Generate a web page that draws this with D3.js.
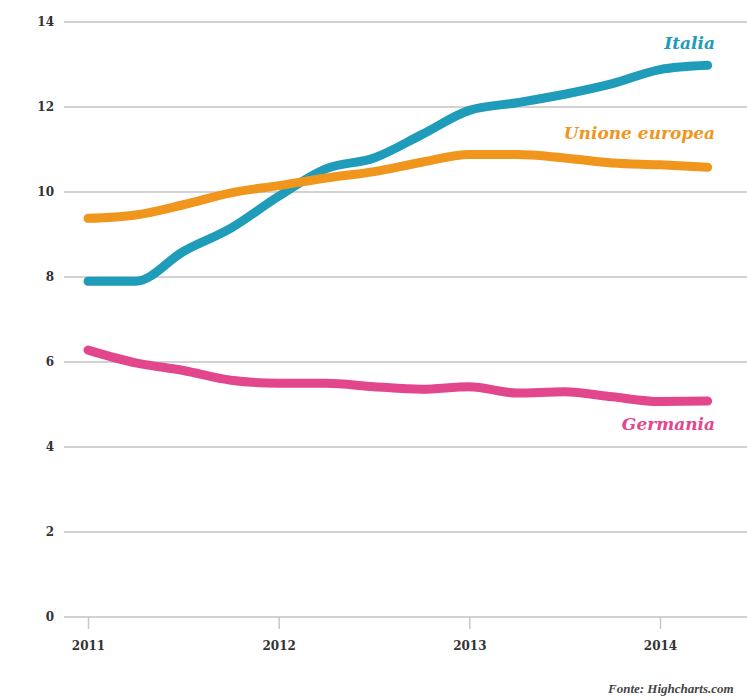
<!DOCTYPE html>
<html>
<head>
<meta charset="utf-8">
<script src="https://cdn.jsdelivr.net/npm/d3@7"></script>
<style>
  body { margin: 0; background: #fff; }
  svg { display: block; }
  .axis text { font-family: "DejaVu Serif", "Liberation Serif", serif; font-weight: bold; font-size: 12px; fill: #333; }
</style>
</head>
<body>
<div id="chart"></div>
<script>
// quarterly points, 2011 Q1 -> 2014 Q2
const quarters = [2011, 2011.25, 2011.5, 2011.75, 2012, 2012.25, 2012.5, 2012.75,
                  2013, 2013.25, 2013.5, 2013.75, 2014, 2014.25];
const italia   = [7.9, 7.9, 8.6, 9.15, 9.9, 10.55, 10.8, 11.35, 11.92, 12.1, 12.3, 12.55, 12.88, 12.98];
const ue       = [9.38, 9.46, 9.7, 9.98, 10.15, 10.33, 10.48, 10.7, 10.88, 10.88, 10.8, 10.68, 10.64, 10.58];
const germania = [6.28, 5.98, 5.8, 5.57, 5.5, 5.5, 5.42, 5.36, 5.42, 5.27, 5.3, 5.18, 5.07, 5.08];
const yTicks = [0, 2, 4, 6, 8, 10, 12, 14];
const xTicks = [2011, 2012, 2013, 2014];

const series = [
  {name: "Italia", values: italia, color: "#1f9cb9", labelY: 49},
  {name: "Unione europea", values: ue, color: "#f0961c", labelY: 139},
  {name: "Germania", values: germania, color: "#e2478d", labelY: 430}
];

const W = 747, H = 700;
const svg = d3.select("#chart").append("svg")
    .attr("width", W)
    .attr("height", H);

const x = d3.scaleLinear().domain([2011, 2014]).range([88, 660]);
const y = d3.scaleLinear().domain([0, 14]).range([617, 22]);

// grid lines
svg.append("g")
    .selectAll("line")
    .data(yTicks)
    .join("line")
    .attr("x1", 64)
    .attr("x2", W)
    .attr("y1", d => y(d))
    .attr("y2", d => y(d))
    .attr("stroke", "#d2d2d2")
    .attr("stroke-width", 2);

// y axis labels
const yAxis = svg.append("g")
    .attr("class", "axis")
    .attr("transform", "translate(58,0)")
    .call(d3.axisLeft(y).tickValues(yTicks).tickSize(0).tickPadding(4));
yAxis.select(".domain").remove();

// x axis
const xAxis = svg.append("g")
    .attr("class", "axis")
    .attr("transform", `translate(0,${y(0)})`)
    .call(d3.axisBottom(x).tickValues(xTicks).tickFormat(d3.format("d")).tickSize(12).tickPadding(12));
xAxis.select(".domain").remove();
xAxis.selectAll(".tick line").attr("stroke", "#c8c8c8").attr("stroke-width", 1.5);

const line = d3.line()
    .x((d, i) => x(quarters[i]))
    .y(d => y(d))
    .curve(d3.curveMonotoneX);

svg.append("g")
    .selectAll("path")
    .data(series)
    .join("path")
    .attr("d", d => line(d.values))
    .attr("fill", "none")
    .attr("stroke", d => d.color)
    .attr("stroke-width", 9)
    .attr("stroke-linecap", "round")
    .attr("stroke-linejoin", "round");

// series labels
svg.append("g")
    .selectAll("text")
    .data(series)
    .join("text")
    .attr("x", 715)
    .attr("y", d => d.labelY)
    .attr("text-anchor", "end")
    .attr("fill", d => d.color)
    .style("font-family", "'DejaVu Serif', 'Liberation Serif', serif")
    .style("font-weight", "bold")
    .style("font-style", "italic")
    .style("font-size", "17px")
    .text(d => d.name);

// source
svg.append("text")
    .attr("x", 608)
    .attr("y", 693)
    .attr("fill", "#444")
    .style("font-family", "'Liberation Serif', serif")
    .style("font-style", "italic")
    .style("font-weight", "bold")
    .style("font-size", "13px")
    .text("Fonte: Highcharts.com");
</script>
</body>
</html>
